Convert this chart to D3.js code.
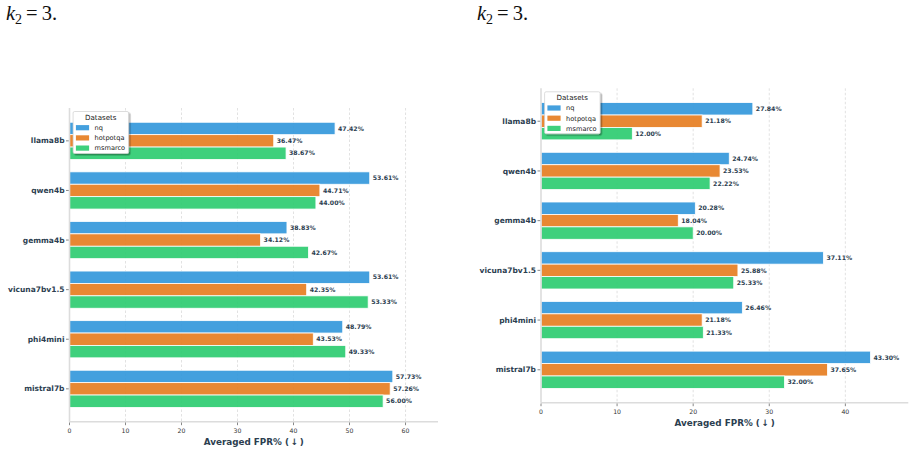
<!DOCTYPE html>
<html>
<head>
<meta charset="utf-8">
<script src="https://cdn.jsdelivr.net/npm/d3@7"></script>
<style>
  html, body { margin: 0; padding: 0; background: #fff; }
  svg { display: block; }
</style>
</head>
<body>
<script>
// data
const models = ["llama8b", "qwen4b", "gemma4b", "vicuna7bv1.5", "phi4mini", "mistral7b"];
const datasets = ["nq", "hotpotqa", "msmarco"];
const colors = ["#3498db", "#e67e22", "#2ecc71"];

// left panel
const leftNq       = [47.42, 53.61, 38.83, 53.61, 48.79, 57.73];
const leftHotpotqa = [36.47, 44.71, 34.12, 42.35, 43.53, 57.26];
const leftMsmarco  = [38.67, 44.00, 42.67, 53.33, 49.33, 56.00];
const leftTicks    = [0, 10, 20, 30, 40, 50, 60];

// right panel
const rightNq       = [27.84, 24.74, 20.28, 37.11, 26.46, 43.30];
const rightHotpotqa = [21.18, 23.53, 18.04, 25.88, 21.18, 37.65];
const rightMsmarco  = [12.00, 22.22, 20.00, 25.33, 21.33, 32.00];
const rightTicks    = [0, 10, 20, 30, 40];

const xLabel = "Averaged FPR% (\u2009\u2193\u2009)";
const textColor = "#2c3e50";

const svg = d3.select("body").append("svg")
  .attr("width", 915)
  .attr("height", 453)
  .attr("viewBox", "0 0 915 453")
  .attr("xmlns", "http://www.w3.org/2000/svg");

const defs = svg.append("defs");
const shadow = defs.append("filter").attr("id", "shadow")
  .attr("x", "-20%").attr("y", "-20%").attr("width", "150%").attr("height", "150%");
shadow.append("feDropShadow")
  .attr("dx", 1.5).attr("dy", 1.5).attr("stdDeviation", 0.6)
  .attr("flood-color", "#000").attr("flood-opacity", 0.35);

// caption fragments above each panel
function caption(x) {
  const t = svg.append("text")
    .attr("x", x).attr("y", 20)
    .attr("font-family", "Liberation Serif, DejaVu Serif, serif")
    .attr("font-size", 20.5)
    .attr("fill", "#111");
  t.append("tspan").attr("font-style", "italic").text("k");
  t.append("tspan").attr("font-size", 14).attr("dy", 3.5).text("2");
  t.append("tspan").attr("dy", -3.5).attr("dx", 4).text("=");
  t.append("tspan").attr("dx", 4).text("3.");
}
caption(6);
caption(477);

function drawPanel(opt) {
  const series = opt.series;
  const g = svg.append("g");

  const x = d3.scaleLinear()
    .domain([0, opt.xMax])
    .range([opt.left, opt.right]);

  const n = models.length;
  const barW = 0.25;
  const pad = (n - 1 + 3 * barW) * 0.05;
  const y = d3.scaleLinear()
    .domain([-1.5 * barW - pad, n - 1 + 1.5 * barW + pad])
    .range([opt.top, opt.bottom]);

  // grid
  g.append("g").selectAll("line")
    .data(opt.ticks.filter(d => d > 0))
    .join("line")
    .attr("x1", d => x(d)).attr("x2", d => x(d))
    .attr("y1", opt.top).attr("y2", opt.bottom)
    .attr("stroke", "#d6d6d6")
    .attr("stroke-width", 0.7)
    .attr("stroke-dasharray", "2.5,2");

  // bars
  series.forEach((vals, si) => {
    const off = (si - 1) * barW;
    g.append("g").selectAll("rect")
      .data(vals)
      .join("rect")
      .attr("x", x(0))
      .attr("y", (d, i) => y(i + off - barW / 2))
      .attr("width", d => x(d) - x(0))
      .attr("height", y(barW) - y(0))
      .attr("fill", colors[si])
      .attr("fill-opacity", 0.92)
      .attr("stroke", "#fff")
      .attr("stroke-width", 0.8);

    g.append("g").selectAll("text")
      .data(vals)
      .join("text")
      .attr("x", d => x(d) + 3)
      .attr("y", (d, i) => y(i + off))
      .attr("dy", "0.35em")
      .attr("font-family", "DejaVu Sans, sans-serif")
      .attr("font-size", 6.2)
      .attr("font-weight", "bold")
      .attr("fill", textColor)
      .text(d => d.toFixed(2) + "%");
  });

  // spines
  g.append("line")
    .attr("x1", x(0)).attr("x2", x(0))
    .attr("y1", opt.top).attr("y2", opt.bottom)
    .attr("stroke", "#dcdcdc").attr("stroke-width", 1.6);
  g.append("line")
    .attr("x1", x(0)).attr("x2", opt.right)
    .attr("y1", opt.bottom).attr("y2", opt.bottom)
    .attr("stroke", "#dcdcdc").attr("stroke-width", 1.6);

  // y axis
  const yAxis = g.append("g");
  yAxis.selectAll("line")
    .data(models)
    .join("line")
    .attr("x1", x(0) - 3.5).attr("x2", x(0) - 0.8)
    .attr("y1", (d, i) => y(i)).attr("y2", (d, i) => y(i))
    .attr("stroke", "#555").attr("stroke-width", 0.7);
  yAxis.selectAll("text")
    .data(models)
    .join("text")
    .attr("x", x(0) - 5)
    .attr("y", (d, i) => y(i))
    .attr("dy", "0.35em")
    .attr("text-anchor", "end")
    .attr("font-family", "DejaVu Sans, sans-serif")
    .attr("font-size", 7.5)
    .attr("font-weight", "bold")
    .attr("fill", textColor)
    .text(d => d);

  // x axis
  const xAxis = g.append("g");
  xAxis.selectAll("line")
    .data(opt.ticks)
    .join("line")
    .attr("x1", d => x(d)).attr("x2", d => x(d))
    .attr("y1", opt.bottom + 0.8).attr("y2", opt.bottom + 3.5)
    .attr("stroke", "#555").attr("stroke-width", 0.7);
  xAxis.selectAll("text")
    .data(opt.ticks)
    .join("text")
    .attr("x", d => x(d))
    .attr("y", opt.bottom + 7)
    .attr("dy", "0.71em")
    .attr("text-anchor", "middle")
    .attr("font-family", "DejaVu Sans, sans-serif")
    .attr("font-size", 6.2)
    .attr("fill", "#333")
    .text(d => d);

  g.append("text")
    .attr("x", (opt.left + opt.right) / 2)
    .attr("y", opt.bottom + 20.5)
    .attr("dy", "0.35em")
    .attr("text-anchor", "middle")
    .attr("font-family", "DejaVu Sans, sans-serif")
    .attr("font-size", 8.8)
    .attr("font-weight", "bold")
    .attr("fill", textColor)
    .text(xLabel);

  // legend
  const lx = opt.left + 3.6, ly = opt.top + 3.5;
  const lg = g.append("g").attr("transform", `translate(${lx},${ly})`);
  lg.append("rect")
    .attr("width", 55.5).attr("height", 42)
    .attr("rx", 1.5)
    .attr("fill", "#fff")
    .attr("stroke", "#cfcfcf")
    .attr("stroke-width", 0.7)
    .attr("filter", "url(#shadow)");
  lg.append("text")
    .attr("x", 27.7).attr("y", 6)
    .attr("dy", "0.35em")
    .attr("text-anchor", "middle")
    .attr("font-family", "DejaVu Sans, sans-serif")
    .attr("font-size", 7.1)
    .attr("fill", "#222")
    .text("Datasets");
  const item = lg.selectAll("g.item")
    .data(datasets)
    .join("g")
    .attr("class", "item")
    .attr("transform", (d, i) => `translate(0,${16.2 + i * 10.2})`);
  item.append("rect")
    .attr("x", 2.8).attr("y", -2.6)
    .attr("width", 13.2).attr("height", 5.2)
    .attr("fill", (d, i) => colors[i])
    .attr("fill-opacity", 0.92);
  item.append("text")
    .attr("x", 21.5).attr("y", 0)
    .attr("dy", "0.35em")
    .attr("font-family", "DejaVu Sans, sans-serif")
    .attr("font-size", 6.6)
    .attr("fill", "#222")
    .text(d => d);
}

drawPanel({
  series: [leftNq, leftHotpotqa, leftMsmarco],
  ticks: leftTicks,
  xMax: 65.8,
  left: 69.5, right: 438, top: 108, bottom: 421.7
});

drawPanel({
  series: [rightNq, rightHotpotqa, rightMsmarco],
  ticks: rightTicks,
  xMax: 48.27,
  left: 541, right: 908.3, top: 88.3, bottom: 402.7
});
</script>
</body>
</html>
